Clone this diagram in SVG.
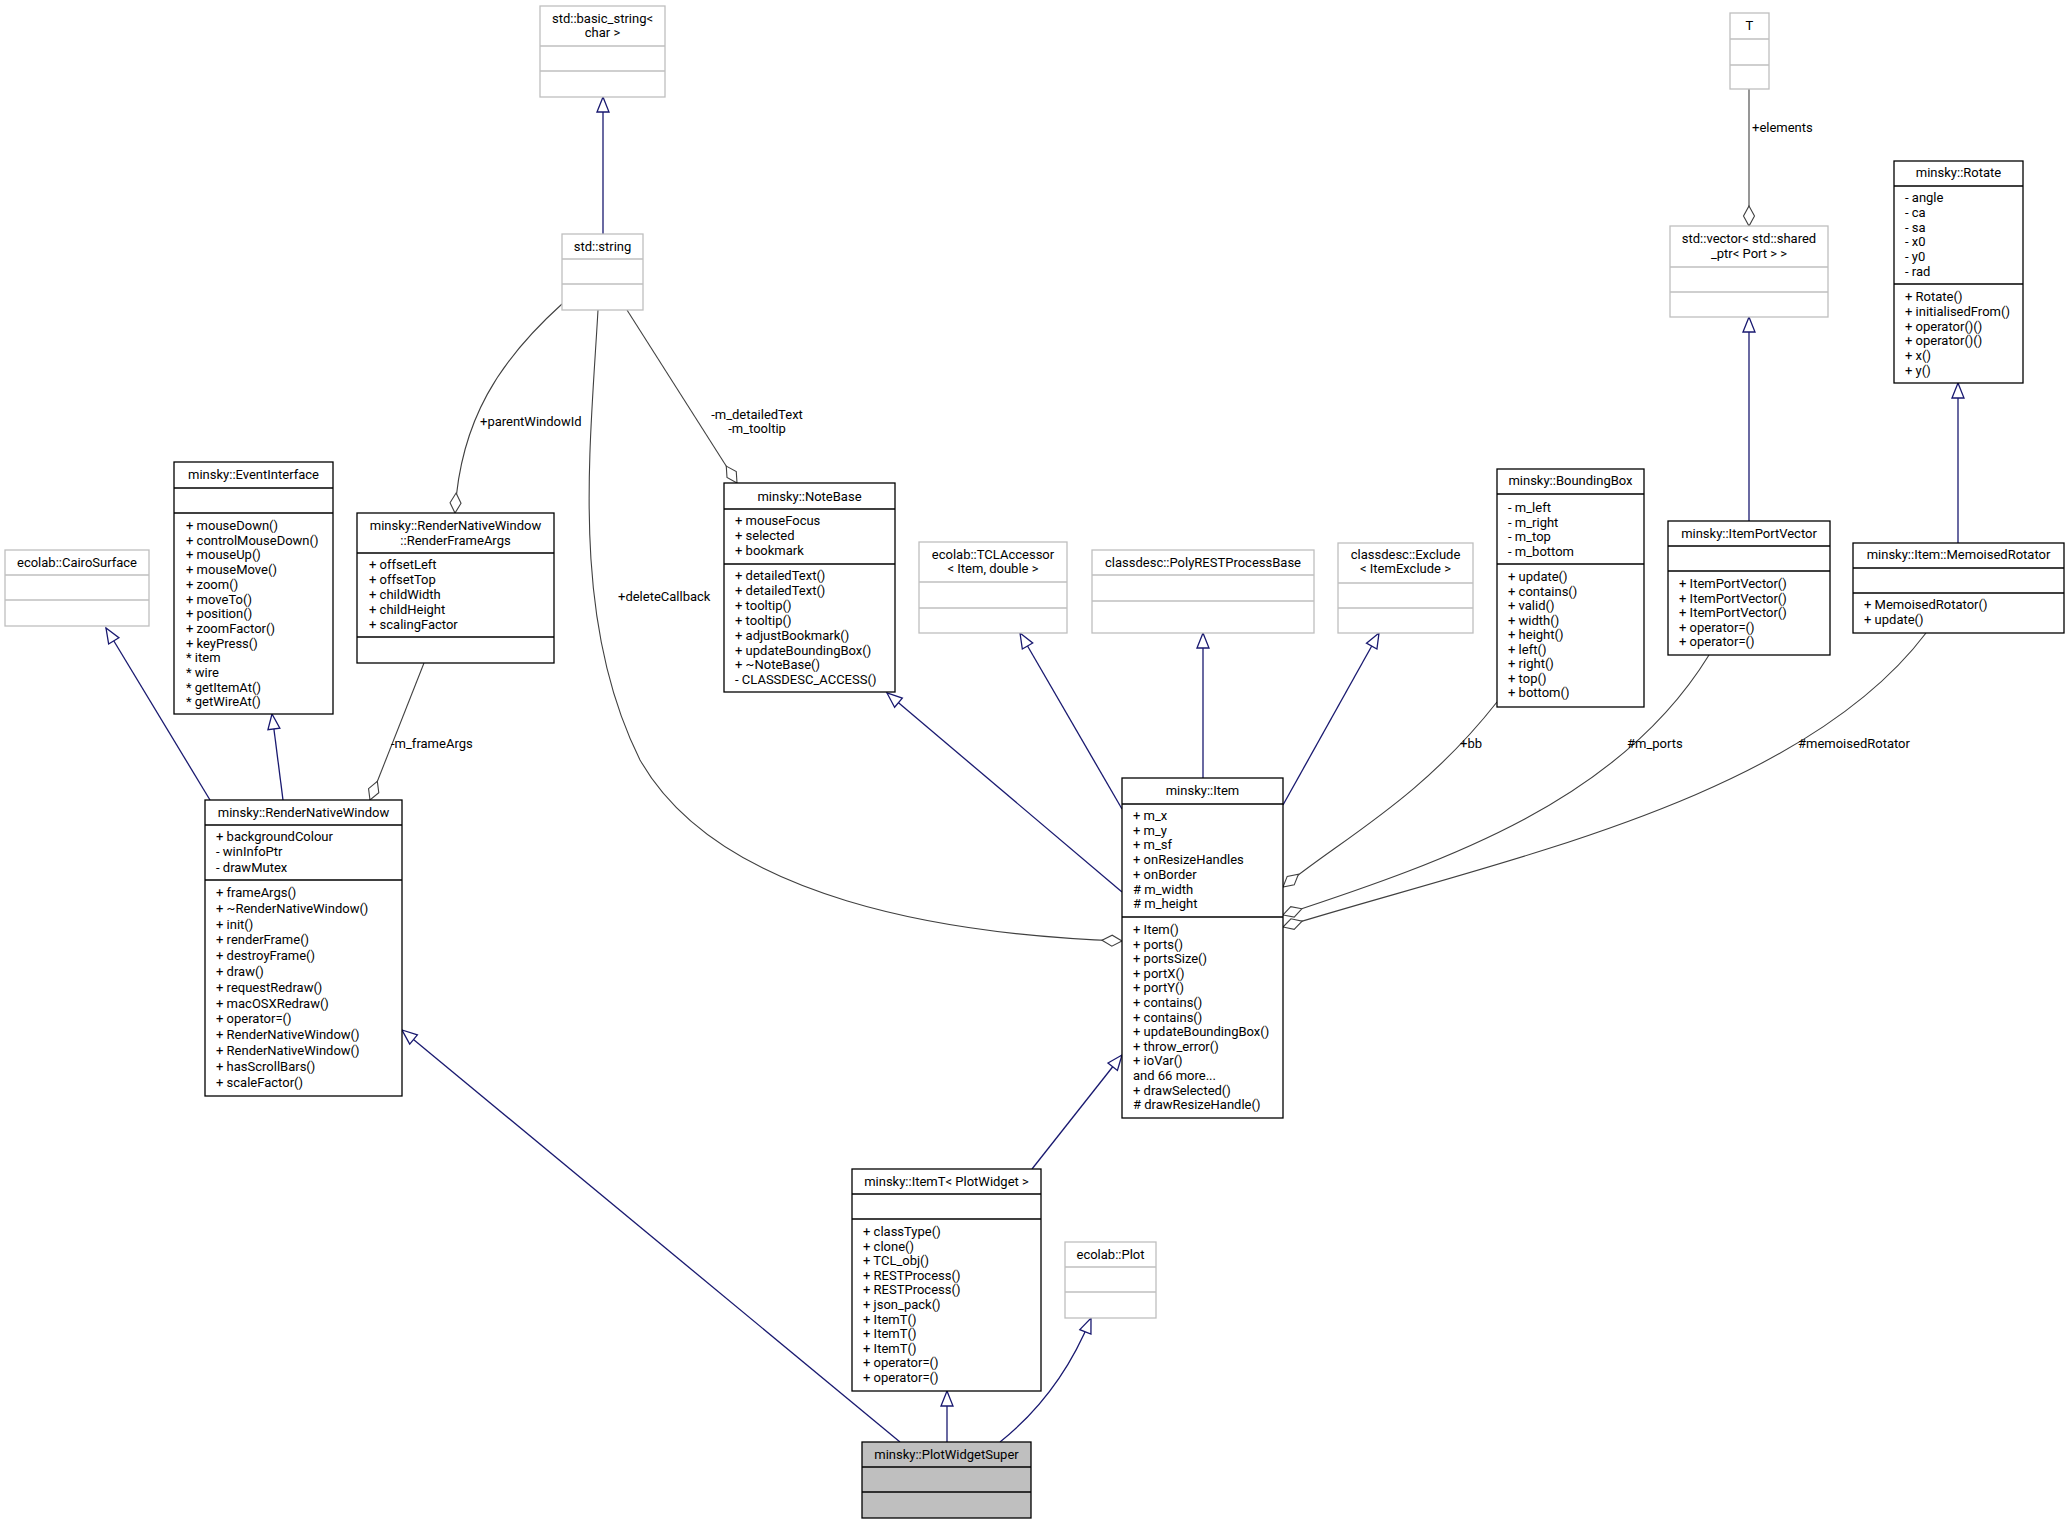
<svg xmlns="http://www.w3.org/2000/svg" width="2069" height="1524" viewBox="0 0 2069 1524">
<style>
text{font-family:Roboto,"Liberation Sans",sans-serif;font-size:13px;fill:#000}
.t{text-anchor:middle}
.b{fill:#fff;stroke:#000;stroke-width:1.3}
.g{fill:#fff;stroke:#bfbfbf;stroke-width:1.3}
.sb{stroke:#000;stroke-width:1.3}
.sg{stroke:#bfbfbf;stroke-width:1.3}
.inh{fill:none;stroke:#191970;stroke-width:1.3;marker-end:url(#tri)}
.agg{fill:none;stroke:#404040;stroke-width:1.1;marker-end:url(#dia)}
</style>
<defs>
<marker id="tri" markerUnits="userSpaceOnUse" markerWidth="18" markerHeight="14" refX="15" refY="7" orient="auto" overflow="visible"><path d="M0,1 L15,7 L0,13 Z" fill="#fff" stroke="#191970" stroke-width="1.3"/></marker>
<marker id="dia" markerUnits="userSpaceOnUse" markerWidth="22" markerHeight="12" refX="20" refY="6" orient="auto" overflow="visible"><path d="M0,6 L10,0.5 L20,6 L10,11.5 Z" fill="#fff" stroke="#404040" stroke-width="1.1"/></marker>
</defs>
<rect width="2069" height="1524" fill="#fff"/>
<g id="connectors">
<path class="inh" d="M603,234 L603,97"/>
<path class="inh" d="M210,800 L106,628"/>
<path class="inh" d="M283,800 L272,714"/>
<path class="inh" d="M1122,892 L887,693"/>
<path class="inh" d="M1122,809 L1020,633"/>
<path class="inh" d="M1203,778 L1203,633"/>
<path class="inh" d="M1283,805 L1379,633"/>
<path class="inh" d="M1749,521 L1749,317"/>
<path class="inh" d="M1958,543 L1958,383"/>
<path class="inh" d="M1032,1169 L1122,1055"/>
<path class="inh" d="M947,1442 L947,1391"/>
<path class="inh" d="M1000,1442 C1040,1410 1070,1370 1091,1318"/>
<path class="inh" d="M900,1442 L402,1030"/>
<path class="agg" d="M1749,89 L1749,226"/>
<path class="agg" d="M562,304 C500,360 460,420 455,513"/>
<path class="agg" d="M627,310 L737,483"/>
<path class="agg" d="M598,310 C590,450 570,620 640,760 C720,900 950,935 1122,941"/>
<path class="agg" d="M424,663 L370,800"/>
<path class="agg" d="M1497,702 C1420,800 1340,840 1283,887"/>
<path class="agg" d="M1709,655 C1620,800 1450,860 1283,915"/>
<path class="agg" d="M1926,633 C1800,800 1500,860 1283,927"/>
<text x="1752" y="132">+elements</text>
<text x="480" y="426">+parentWindowId</text>
<text x="757" y="419" class="t">-m_detailedText</text>
<text x="757" y="433" class="t">-m_tooltip</text>
<text x="618" y="601">+deleteCallback</text>
<text x="391" y="748">-m_frameArgs</text>
<text x="1460" y="748">+bb</text>
<text x="1627" y="748">#m_ports</text>
<text x="1798" y="748">#memoisedRotator</text>
</g>
<g id="basic_string">
<rect class="g" x="540" y="6" width="125" height="91"/>
<line class="sg" x1="540" y1="46" x2="665" y2="46"/><line class="sg" x1="540" y1="71" x2="665" y2="71"/>
<text class="t" x="602.5" y="23">std::basic_string&lt;</text><text class="t" x="602.5" y="37">char &gt;</text>
</g>
<g id="std_string">
<rect class="g" x="562" y="234" width="81" height="76"/>
<line class="sg" x1="562" y1="259" x2="643" y2="259"/><line class="sg" x1="562" y1="284" x2="643" y2="284"/>
<text class="t" x="602.5" y="251">std::string</text>
</g>
<g id="CairoSurface">
<rect class="g" x="5" y="550" width="144" height="76"/>
<line class="sg" x1="5" y1="575" x2="149" y2="575"/><line class="sg" x1="5" y1="600" x2="149" y2="600"/>
<text class="t" x="77" y="567">ecolab::CairoSurface</text>
</g>
<g id="EventInterface">
<rect class="b" x="174" y="462" width="159" height="252"/>
<line class="sb" x1="174" y1="488" x2="333" y2="488"/><line class="sb" x1="174" y1="513" x2="333" y2="513"/>
<text class="t" x="253.5" y="479">minsky::EventInterface</text>
<text x="186" y="530">+ mouseDown()</text>
<text x="186" y="544.7">+ controlMouseDown()</text>
<text x="186" y="559.4">+ mouseUp()</text>
<text x="186" y="574.1">+ mouseMove()</text>
<text x="186" y="588.8">+ zoom()</text>
<text x="186" y="603.5">+ moveTo()</text>
<text x="186" y="618.2">+ position()</text>
<text x="186" y="632.9">+ zoomFactor()</text>
<text x="186" y="647.6">+ keyPress()</text>
<text x="186" y="662.3">* item</text>
<text x="186" y="677">* wire</text>
<text x="186" y="691.7">* getItemAt()</text>
<text x="186" y="706.4">* getWireAt()</text>
</g>
<g id="RenderFrameArgs">
<rect class="b" x="357" y="513" width="197" height="150"/>
<line class="sb" x1="357" y1="553" x2="554" y2="553"/><line class="sb" x1="357" y1="637" x2="554" y2="637"/>
<text class="t" x="455.5" y="530">minsky::RenderNativeWindow</text>
<text class="t" x="455.5" y="545">::RenderFrameArgs</text>
<text x="369" y="569">+ offsetLeft</text>
<text x="369" y="584">+ offsetTop</text>
<text x="369" y="599">+ childWidth</text>
<text x="369" y="614">+ childHeight</text>
<text x="369" y="629">+ scalingFactor</text>
</g>
<g id="RenderNativeWindow">
<rect class="b" x="205" y="800" width="197" height="296"/>
<line class="sb" x1="205" y1="825" x2="402" y2="825"/><line class="sb" x1="205" y1="880" x2="402" y2="880"/>
<text class="t" x="303.5" y="817">minsky::RenderNativeWindow</text>
<text x="216" y="841">+ backgroundColour</text>
<text x="216" y="856">- winInfoPtr</text>
<text x="216" y="872">- drawMutex</text>
<text x="216" y="897">+ frameArgs()</text>
<text x="216" y="912.8">+ ~RenderNativeWindow()</text>
<text x="216" y="928.6">+ init()</text>
<text x="216" y="944.4">+ renderFrame()</text>
<text x="216" y="960.2">+ destroyFrame()</text>
<text x="216" y="976">+ draw()</text>
<text x="216" y="991.8">+ requestRedraw()</text>
<text x="216" y="1007.6">+ macOSXRedraw()</text>
<text x="216" y="1023.4">+ operator=()</text>
<text x="216" y="1039.2">+ RenderNativeWindow()</text>
<text x="216" y="1055">+ RenderNativeWindow()</text>
<text x="216" y="1070.8">+ hasScrollBars()</text>
<text x="216" y="1086.6">+ scaleFactor()</text>
<text x="216" y="1102.4" display="none"></text>
</g>
<g id="RNW_last">
<text x="216" y="1092" display="none"></text>
</g>
<g id="NoteBase">
<rect class="b" x="724" y="483" width="171" height="209"/>
<line class="sb" x1="724" y1="509" x2="895" y2="509"/><line class="sb" x1="724" y1="564" x2="895" y2="564"/>
<text class="t" x="809.5" y="501">minsky::NoteBase</text>
<text x="735" y="525">+ mouseFocus</text>
<text x="735" y="540">+ selected</text>
<text x="735" y="555">+ bookmark</text>
<text x="735" y="580">+ detailedText()</text>
<text x="735" y="594.9">+ detailedText()</text>
<text x="735" y="609.8">+ tooltip()</text>
<text x="735" y="624.7">+ tooltip()</text>
<text x="735" y="639.6">+ adjustBookmark()</text>
<text x="735" y="654.5">+ updateBoundingBox()</text>
<text x="735" y="669.4">+ ~NoteBase()</text>
<text x="735" y="684.3">- CLASSDESC_ACCESS()</text>
</g>
<g id="TCLAccessor">
<rect class="g" x="919" y="542" width="148" height="91"/>
<line class="sg" x1="919" y1="582" x2="1067" y2="582"/><line class="sg" x1="919" y1="608" x2="1067" y2="608"/>
<text class="t" x="993" y="559">ecolab::TCLAccessor</text>
<text class="t" x="993" y="573">&lt; Item, double &gt;</text>
</g>
<g id="PolyRESTProcessBase">
<rect class="g" x="1092" y="550" width="222" height="83"/>
<line class="sg" x1="1092" y1="575" x2="1314" y2="575"/><line class="sg" x1="1092" y1="601" x2="1314" y2="601"/>
<text class="t" x="1203" y="567">classdesc::PolyRESTProcessBase</text>
</g>
<g id="Exclude">
<rect class="g" x="1338" y="543" width="135" height="90"/>
<line class="sg" x1="1338" y1="583" x2="1473" y2="583"/><line class="sg" x1="1338" y1="608" x2="1473" y2="608"/>
<text class="t" x="1405.5" y="559">classdesc::Exclude</text>
<text class="t" x="1405.5" y="573">&lt; ItemExclude &gt;</text>
</g>
<g id="Item">
<rect class="b" x="1122" y="778" width="161" height="340"/>
<line class="sb" x1="1122" y1="804" x2="1283" y2="804"/><line class="sb" x1="1122" y1="917" x2="1283" y2="917"/>
<text class="t" x="1202.5" y="795">minsky::Item</text>
<text x="1133" y="820">+ m_x</text>
<text x="1133" y="834.7">+ m_y</text>
<text x="1133" y="849.4">+ m_sf</text>
<text x="1133" y="864.1">+ onResizeHandles</text>
<text x="1133" y="878.8">+ onBorder</text>
<text x="1133" y="893.5"># m_width</text>
<text x="1133" y="908.2"># m_height</text>
<text x="1133" y="934">+ Item()</text>
<text x="1133" y="948.6">+ ports()</text>
<text x="1133" y="963.2">+ portsSize()</text>
<text x="1133" y="977.8">+ portX()</text>
<text x="1133" y="992.4">+ portY()</text>
<text x="1133" y="1007">+ contains()</text>
<text x="1133" y="1021.6">+ contains()</text>
<text x="1133" y="1036.2">+ updateBoundingBox()</text>
<text x="1133" y="1050.8">+ throw_error()</text>
<text x="1133" y="1065.4">+ ioVar()</text>
<text x="1133" y="1080">and 66 more...</text>
<text x="1133" y="1094.6">+ drawSelected()</text>
<text x="1133" y="1109.2"># drawResizeHandle()</text>
</g>
<g id="BoundingBox">
<rect class="b" x="1497" y="469" width="147" height="238"/>
<line class="sb" x1="1497" y1="494" x2="1644" y2="494"/><line class="sb" x1="1497" y1="564" x2="1644" y2="564"/>
<text class="t" x="1570.5" y="485">minsky::BoundingBox</text>
<text x="1508" y="512">- m_left</text>
<text x="1508" y="526.7">- m_right</text>
<text x="1508" y="541.4">- m_top</text>
<text x="1508" y="556.1">- m_bottom</text>
<text x="1508" y="581">+ update()</text>
<text x="1508" y="595.5">+ contains()</text>
<text x="1508" y="610">+ valid()</text>
<text x="1508" y="624.5">+ width()</text>
<text x="1508" y="639">+ height()</text>
<text x="1508" y="653.5">+ left()</text>
<text x="1508" y="668">+ right()</text>
<text x="1508" y="682.5">+ top()</text>
<text x="1508" y="697">+ bottom()</text>
</g>
<g id="T">
<rect class="g" x="1730" y="13" width="39" height="76"/>
<line class="sg" x1="1730" y1="39" x2="1769" y2="39"/><line class="sg" x1="1730" y1="65" x2="1769" y2="65"/>
<text class="t" x="1749.5" y="30">T</text>
</g>
<g id="vector">
<rect class="g" x="1670" y="226" width="158" height="91"/>
<line class="sg" x1="1670" y1="267" x2="1828" y2="267"/><line class="sg" x1="1670" y1="292" x2="1828" y2="292"/>
<text class="t" x="1749" y="243">std::vector&lt; std::shared</text>
<text class="t" x="1749" y="258">_ptr&lt; Port &gt; &gt;</text>
</g>
<g id="ItemPortVector">
<rect class="b" x="1668" y="521" width="162" height="134"/>
<line class="sb" x1="1668" y1="546" x2="1830" y2="546"/><line class="sb" x1="1668" y1="571" x2="1830" y2="571"/>
<text class="t" x="1749" y="538">minsky::ItemPortVector</text>
<text x="1679" y="588">+ ItemPortVector()</text>
<text x="1679" y="602.5">+ ItemPortVector()</text>
<text x="1679" y="617">+ ItemPortVector()</text>
<text x="1679" y="631.5">+ operator=()</text>
<text x="1679" y="646">+ operator=()</text>
</g>
<g id="Rotate">
<rect class="b" x="1894" y="161" width="129" height="222"/>
<line class="sb" x1="1894" y1="186" x2="2023" y2="186"/><line class="sb" x1="1894" y1="284" x2="2023" y2="284"/>
<text class="t" x="1958.5" y="177">minsky::Rotate</text>
<text x="1905" y="202">- angle</text>
<text x="1905" y="216.8">- ca</text>
<text x="1905" y="231.6">- sa</text>
<text x="1905" y="246.4">- x0</text>
<text x="1905" y="261.2">- y0</text>
<text x="1905" y="276">- rad</text>
<text x="1905" y="301">+ Rotate()</text>
<text x="1905" y="315.8">+ initialisedFrom()</text>
<text x="1905" y="330.6">+ operator()()</text>
<text x="1905" y="345.4">+ operator()()</text>
<text x="1905" y="360.2">+ x()</text>
<text x="1905" y="375">+ y()</text>
</g>
<g id="MemoisedRotator">
<rect class="b" x="1853" y="543" width="211" height="90"/>
<line class="sb" x1="1853" y1="568" x2="2064" y2="568"/><line class="sb" x1="1853" y1="593" x2="2064" y2="593"/>
<text class="t" x="1958.5" y="559">minsky::Item::MemoisedRotator</text>
<text x="1864" y="609">+ MemoisedRotator()</text>
<text x="1864" y="624">+ update()</text>
</g>
<g id="ItemT">
<rect class="b" x="852" y="1169" width="189" height="222"/>
<line class="sb" x1="852" y1="1194" x2="1041" y2="1194"/><line class="sb" x1="852" y1="1219" x2="1041" y2="1219"/>
<text class="t" x="946.5" y="1186">minsky::ItemT&lt; PlotWidget &gt;</text>
<text x="863" y="1236">+ classType()</text>
<text x="863" y="1250.6">+ clone()</text>
<text x="863" y="1265.2">+ TCL_obj()</text>
<text x="863" y="1279.8">+ RESTProcess()</text>
<text x="863" y="1294.4">+ RESTProcess()</text>
<text x="863" y="1309">+ json_pack()</text>
<text x="863" y="1323.6">+ ItemT()</text>
<text x="863" y="1338.2">+ ItemT()</text>
<text x="863" y="1352.8">+ ItemT()</text>
<text x="863" y="1367.4">+ operator=()</text>
<text x="863" y="1382">+ operator=()</text>
</g>
<g id="Plot">
<rect class="g" x="1065" y="1242" width="91" height="76"/>
<line class="sg" x1="1065" y1="1267" x2="1156" y2="1267"/><line class="sg" x1="1065" y1="1292" x2="1156" y2="1292"/>
<text class="t" x="1110.5" y="1259">ecolab::Plot</text>
</g>
<g id="PlotWidgetSuper">
<rect x="862" y="1442" width="169" height="76" fill="#bfbfbf" stroke="#000" stroke-width="1.3"/>
<line class="sb" x1="862" y1="1467" x2="1031" y2="1467"/><line class="sb" x1="862" y1="1492" x2="1031" y2="1492"/>
<text class="t" x="946.5" y="1459">minsky::PlotWidgetSuper</text>
</g>
</svg>
